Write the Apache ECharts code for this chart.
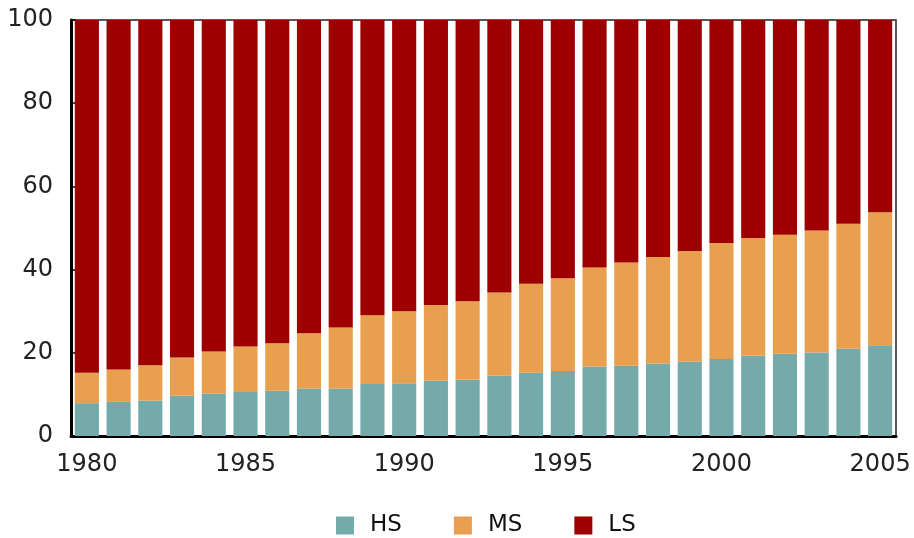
<!DOCTYPE html>
<html>
<head>
<meta charset="utf-8">
<script src="https://cdn.jsdelivr.net/npm/echarts@6/dist/echarts.min.js"></script>
<style>
  html, body { margin: 0; padding: 0; background: #fff; }
  #main { width: 914px; height: 538px; }
</style>
</head>
<body>
<div id="main"></div>
<script>
// years on the x axis
var years = ['1980', '1981', '1982', '1983', '1984', '1985', '1986', '1987', '1988', '1989',
  '1990', '1991', '1992', '1993', '1994', '1995', '1996', '1997', '1998', '1999',
  '2000', '2001', '2002', '2003', '2004', '2005'];

// shares, per cent
var hs = [7.9, 8.2, 8.5, 9.7, 10.2, 10.6, 10.9, 11.4, 11.4, 12.5,
  12.7, 13.3, 13.5, 14.5, 15.2, 15.6, 16.7, 16.9, 17.4, 17.9,
  18.5, 19.3, 19.8, 20.1, 21.0, 21.8];
var ms = [7.3, 7.8, 8.5, 9.2, 10.1, 10.9, 11.4, 13.3, 14.7, 16.5,
  17.3, 18.2, 18.9, 20.0, 21.4, 22.3, 23.8, 24.8, 25.6, 26.6,
  27.9, 28.3, 28.6, 29.3, 30.0, 32.0];
var ls = [84.8, 84.0, 83.0, 81.1, 79.7, 78.5, 77.7, 75.3, 73.9, 71.0,
  70.0, 68.5, 67.6, 65.5, 63.4, 62.1, 59.5, 58.3, 57.0, 55.5,
  53.6, 52.4, 51.6, 50.6, 49.0, 46.2];

var yTicks = [0, 20, 40, 60, 80, 100];

var font = 'DejaVu Sans';
var chart = echarts.init(document.getElementById('main'));

chart.setOption({
  animation: false,
  textStyle: { fontFamily: font },
  grid: {
    left: 71, right: 18, top: 20, bottom: 102,
    show: true, borderColor: '#222', borderWidth: 1.5
  },
  legend: {
    bottom: 1,
    left: 336,
    padding: 0,
    itemWidth: 18,
    itemHeight: 18,
    itemGap: 52,
    icon: 'rect',
    textStyle: { fontSize: 23, color: '#111', fontFamily: font, padding: [0, 0, 0, 11] },
    data: ['HS', 'MS', 'LS']
  },
  xAxis: {
    type: 'category',
    data: years,
    axisLine: { lineStyle: { color: '#000', width: 3 } },
    axisTick: { inside: true, length: 16, interval: 0, lineStyle: { color: '#222', width: 1.5 } },
    axisLabel: {
      interval: function (i, v) { return (+v) % 5 === 0; },
      color: '#222', fontSize: 24, margin: 17, fontFamily: font
    }
  },
  yAxis: {
    type: 'value',
    min: yTicks[0],
    max: yTicks[yTicks.length - 1],
    interval: 20,
    splitLine: { show: false },
    axisLine: { show: true, lineStyle: { color: '#000', width: 3 } },
    axisTick: { show: true, inside: true, length: 5, lineStyle: { color: '#000', width: 1.5 } },
    axisLabel: { color: '#222', fontSize: 24, margin: 18, fontFamily: font }
  },
  series: [
    { name: 'HS', type: 'bar', stack: 'all', data: hs, barCategoryGap: '24%',
      itemStyle: { color: '#74AAAA' } },
    { name: 'MS', type: 'bar', stack: 'all', data: ms,
      itemStyle: { color: '#E8A04E' } },
    { name: 'LS', type: 'bar', stack: 'all', data: ls,
      itemStyle: { color: '#9E0000' } }
  ]
});
</script>
</body>
</html>
